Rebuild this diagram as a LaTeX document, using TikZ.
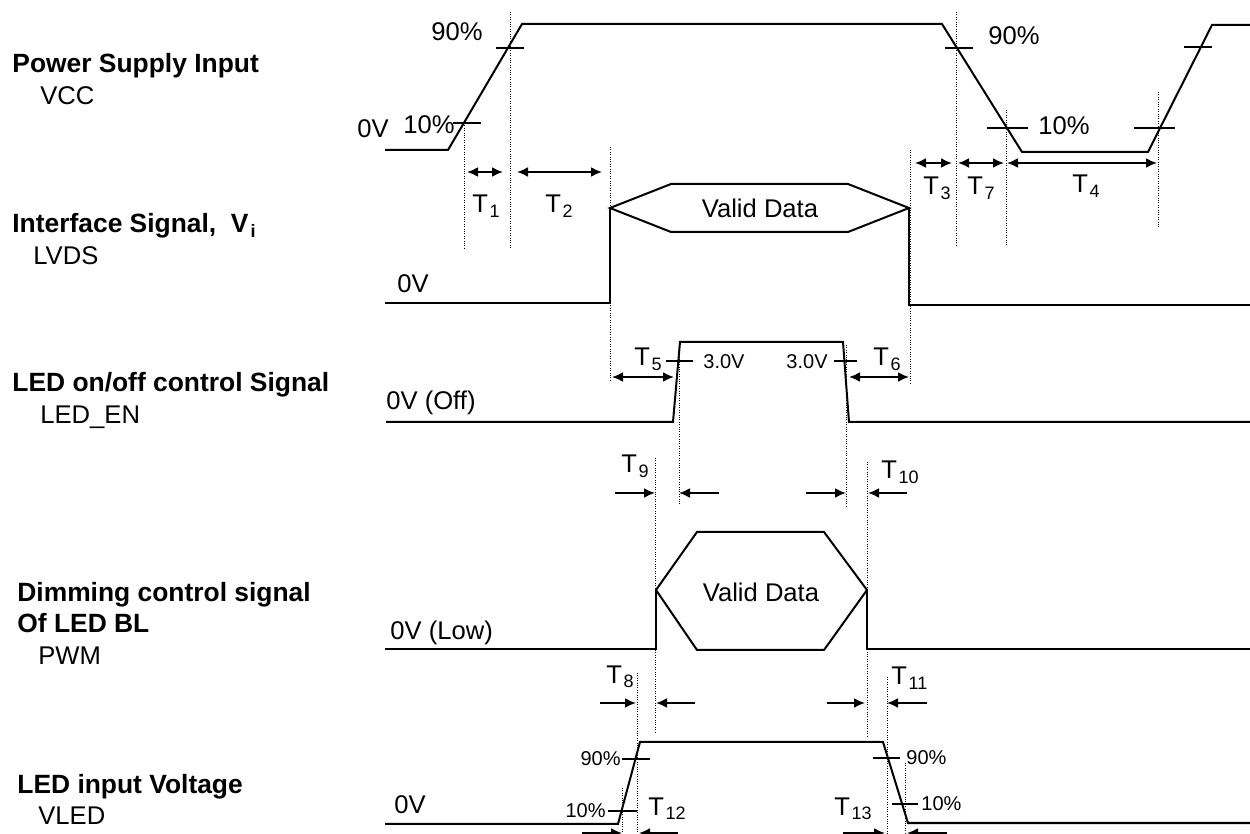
\documentclass[tikz,border=0pt]{standalone}
\usepackage{fontspec}
\setmainfont{Liberation Sans}
\tikzset{
  textNode/.style = {inner sep=0, font=\fontsize{12.8}{15}\selectfont},
  headNode/.style = {inner sep=0, anchor=base west, font=\bfseries\fontsize{13.2}{15}\selectfont},
  smallNode/.style = {inner sep=0, font=\fontsize{10}{12}\selectfont},
  wave/.style = {line width=1pt, line join=miter},
  tickMark/.style = {line width=0.8pt},
  guide/.style = {line width=0.4pt, dash pattern=on 0.4pt off 0.8pt},
  dimBoth/.style = {line width=1pt, {Latex[length=5.5pt,width=5pt]}-{Latex[length=5.5pt,width=5pt]}},
  dimTo/.style = {line width=1pt, -{Latex[length=5.5pt,width=5pt]}}
}
\usetikzlibrary{arrows.meta, calc, positioning}
\newcommand{\tName}[1]{T\kern0.8pt\raisebox{-2.2pt}{\fontsize{9}{10}\selectfont #1}}

\begin{document}
\begin{tikzpicture}[x=0.5pt, y=-0.5pt]
  \useasboundingbox (0,0) rectangle (1250,834);
  \clip (0,0) rectangle (1250,834);

  % signal names
  \node[headNode] (powerHead) at (12,73) {Power Supply Input};
  \node[headNode, font=\fontsize{12.8}{15}\selectfont] (vccName) at (40,105) {VCC};
  \node[headNode] (ifHead) at (12,233) {Interface Signal,\ \ V\kern1pt\raisebox{-2.5pt}{\fontsize{9}{10}\selectfont i}};
  \node[headNode, font=\fontsize{12.8}{15}\selectfont] (lvdsName) at (33,265) {LVDS};
  \node[headNode] (ledHead) at (12,392) {LED on/off control Signal};
  \node[headNode, font=\fontsize{12.8}{15}\selectfont] (ledName) at (40,424) {LED\_EN};
  \node[headNode] (dimHead) at (17,602) {Dimming control signal};
  \node[headNode] (dimHeadTwo) at (17,633) {Of LED BL};
  \node[headNode, font=\fontsize{12.8}{15}\selectfont] (pwmName) at (38,665) {PWM};
  \node[headNode] (vledHead) at (17,793) {LED input Voltage};
  \node[headNode, font=\fontsize{12.8}{15}\selectfont] (vledName) at (38,825) {VLED};

  % VCC
  \draw[wave] (385,150) -- (448,150) -- (522,24) -- (942,24) -- (1022,152) -- (1148,152) -- (1212,25) -- (1250,25);
  \draw[tickMark] (496,48) -- (524,48);
  \draw[tickMark] (453,123) -- (481,123);
  \draw[tickMark] (945,48) -- (973,48);
  \draw[tickMark] (987,128) -- (1028,128);
  \draw[tickMark] (1134,128) -- (1175,128);
  \draw[tickMark] (1184,47) -- (1212,47);
  \node[textNode, anchor=base west] (vccZero) at (357,138) {0V};
  \node[textNode, anchor=east] (vccTenL) at (455,125) {10\%};
  \node[textNode, anchor=east] (vccNinetyL) at (483,32) {90\%};
  \node[textNode, anchor=west] (vccNinetyR) at (988,36) {90\%};
  \node[textNode, anchor=west] (vccTenR) at (1038,126) {10\%};

  % interface signal
  \draw[wave] (385,303) -- (610,303) -- (610,208);
  \draw[wave] (610,208) -- (671,184) -- (848,184) -- (909,208) -- (848,232) -- (671,232) -- cycle;
  \draw[wave] (909,208) -- (909,305) -- (1250,305);
  \node[textNode] (ifData) at (760,208) {Valid Data};
  \node[textNode, anchor=base west] (ifZero) at (397,293) {0V};

  % LED on/off
  \draw[wave] (386,422) -- (673,422) -- (680,342) -- (843,342) -- (849,422) -- (1250,422);
  \draw[tickMark] (666,361) -- (693,361);
  \draw[tickMark] (834,361) -- (857,361);
  \node[smallNode, anchor=west] (ledOnV) at (703,362) {3.0V};
  \node[smallNode, anchor=east] (ledOffV) at (828,362) {3.0V};
  \node[textNode, anchor=base west] (ledZero) at (386,410) {0V (Off)};

  % dimming
  \draw[wave] (385,649) -- (656,649) -- (656,590);
  \draw[wave] (656,590) -- (697,532) -- (824,532) -- (867,590) -- (824,650) -- (697,650) -- cycle;
  \draw[wave] (867,590) -- (867,649) -- (1250,649);
  \node[textNode] (dimData) at (761,592) {Valid Data};
  \node[textNode, anchor=base west] (dimZero) at (390,640) {0V (Low)};

  % VLED
  \draw[wave] (385,824) -- (618,824) -- (640,742) -- (883,742) -- (908,823) -- (1250,823);
  \draw[tickMark] (622,759) -- (650,759);
  \draw[tickMark] (608,811) -- (637,811);
  \draw[tickMark] (873,758) -- (900,758);
  \draw[tickMark] (892,804) -- (918,804);
  \node[smallNode, anchor=east] (vledNinetyL) at (621,759) {90\%};
  \node[smallNode, anchor=east] (vledTenL) at (606,811) {10\%};
  \node[smallNode, anchor=west] (vledNinetyR) at (906,758) {90\%};
  \node[smallNode, anchor=west] (vledTenR) at (921,804) {10\%};
  \node[textNode, anchor=base west] (vledZero) at (394,813) {0V};

  % guides
  \foreach \gx/\gtop/\gbot in {464/123/248, 510/12/248, 610/147/380, 910/150/383,
      956/12/247, 1006/110/246, 1158/92/228, 655/458/733, 679/345/505,
      846/345/507, 867/462/738, 637/673/834, 887/677/834, 622/788/834, 905/763/834}
    \draw[guide] (\gx,\gtop) -- (\gx,\gbot);

  % timings
  \coordinate (tOneA) at (467,172);  \coordinate (tOneB) at (503,172);
  \coordinate (tTwoA) at (517,172);  \coordinate (tTwoB) at (602,172);
  \coordinate (tThreeA) at (915,163); \coordinate (tThreeB) at (952,163);
  \coordinate (tSevenA) at (958,163); \coordinate (tSevenB) at (1004,163);
  \coordinate (tFourA) at (1007,163); \coordinate (tFourB) at (1157,163);
  \coordinate (tFiveA) at (612,377); \coordinate (tFiveB) at (674,377);
  \coordinate (tSixA) at (849,377);  \coordinate (tSixB) at (909,377);
  \draw[dimBoth] (tOneA) -- (tOneB);
  \draw[dimBoth] (tTwoA) -- (tTwoB);
  \draw[dimBoth] (tThreeA) -- (tThreeB);
  \draw[dimBoth] (tSevenA) -- (tSevenB);
  \draw[dimBoth] (tFourA) -- (tFourB);
  \draw[dimBoth] (tFiveA) -- (tFiveB);
  \draw[dimBoth] (tSixA) -- (tSixB);

  \foreach \ax/\bx/\ay in {615/655/493, 719/679/493, 806/846/493, 907/868/493,
      600/636/703, 695/656/703, 827/865/703, 927/887/703,
      582/622/833, 678/639/833, 843/885/833, 947/907/833}
    \draw[dimTo] (\ax,\ay) -- (\bx,\ay);

  \node[textNode, anchor=base west] (tOne) at (472,213) {\tName{1}};
  \node[textNode, anchor=base west] (tTwo) at (545,213) {\tName{2}};
  \node[textNode, anchor=base west] (tThree) at (923,195) {\tName{3}};
  \node[textNode, anchor=base west] (tSeven) at (967,195) {\tName{7}};
  \node[textNode, anchor=base west] (tFour) at (1072,193) {\tName{4}};
  \node[textNode, anchor=base west] (tFive) at (634,366) {\tName{5}};
  \node[textNode, anchor=base west] (tSix) at (873,366) {\tName{6}};
  \node[textNode, anchor=base west] (tNine) at (621,473) {\tName{9}};
  \node[textNode, anchor=base west] (tTen) at (881,479) {\tName{10}};
  \node[textNode, anchor=base west] (tEight) at (606,683) {\tName{8}};
  \node[textNode, anchor=base west] (tEleven) at (891,685) {\tName{11}};
  \node[textNode, anchor=base west] (tTwelve) at (648,815) {\tName{12}};
  \node[textNode, anchor=base west] (tThirteen) at (834,815) {\tName{13}};
\end{tikzpicture}
\end{document}
